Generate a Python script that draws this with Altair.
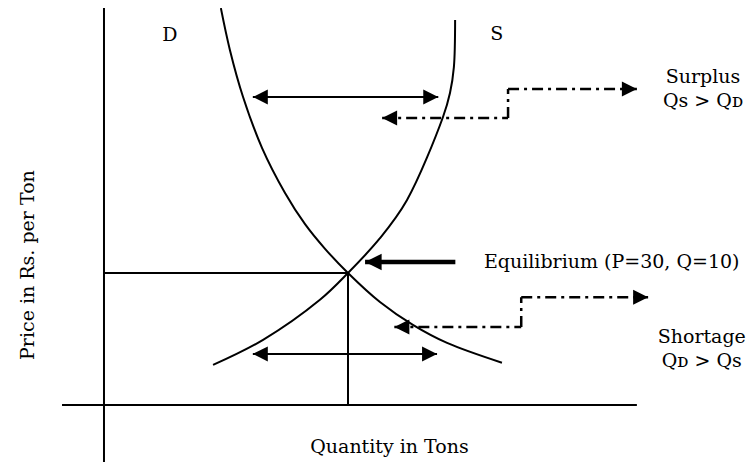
import altair as alt
import pandas as pd

# ---- data (Quantity in tons, Price in Rs. per ton) ----
d_q = [4.79, 5.16, 5.70, 6.48, 7.42, 8.24, 9.06, 10.0, 11.31, 12.66, 14.06, 16.31]
d_p = [90.2, 80.7, 70.0, 58.4, 48.2, 41.1, 35.5, 30.0, 23.4, 18.2, 14.1, 9.6]

s_q = [4.47, 6.52, 8.85, 10.0, 11.31, 12.42, 13.89, 14.18, 14.34, 14.39]
s_p = [9.1, 14.8, 23.9, 30.0, 37.9, 46.6, 65.4, 70.9, 76.8, 87.5]

# segments: x, y, x2, y2, style
seg_x = [-1.72, 0.0, 0.0, 10.0, 6.1, 6.1, 10.7,
         11.4, 16.56, 16.56, 11.9, 17.1, 17.1]
seg_y = [0.0, -12.95, 30.0, 0.0, 70.0, 11.6, 32.5,
         65.2, 65.2, 71.8, 17.7, 17.7, 24.5]
seg_x2 = [21.84, 0.0, 10.0, 10.0, 13.7, 13.65, 14.4,
          16.56, 16.56, 21.84, 17.1, 17.1, 22.3]
seg_y2 = [0.0, 90.22, 30.0, 30.0, 70.0, 11.6, 32.5,
          65.2, 71.8, 71.8, 17.7, 24.5, 24.5]
seg_style = ["axis", "axis", "axis", "axis", "solid", "solid", "thick",
             "dash", "dash", "dash", "dash", "dash", "dash"]

# arrow heads (tip positions)
head_r_q = [13.7, 21.84, 13.65, 22.3]
head_r_p = [70.0, 71.8, 11.6, 24.5]
head_l_q = [6.1, 11.4, 6.1, 11.9]
head_l_p = [70.0, 65.2, 11.6, 17.7]
head_eq_q = [10.7]
head_eq_p = [32.5]

# labels
center_labels = ["D", "S", "Surplus", "Qs > Qᴅ", "Shortage", "Qᴅ > Qs", "Quantity in Tons"]
center_q = [2.7, 16.1, 24.55, 24.55, 24.5, 24.5, 11.7]
center_p = [84.2, 84.4, 74.5, 69.1, 15.4, 10.0, -9.5]
left_labels = ["Equilibrium (P=30, Q=10)"]
left_q = [15.57]
left_p = [32.5]
ylab = ["Price in Rs. per Ton"]
ylab_q = [-3.1]
ylab_p = [31.8]

W, H = 738, 454
Q_MIN = -3.934
Q_MAX = Q_MIN + W / 24.4
P_MAX = 90.227
P_MIN = P_MAX - H / 4.4
FONT = "DejaVu Serif"
FS = 19

xs = alt.Scale(domain=[Q_MIN, Q_MAX], nice=False, zero=False)
ys = alt.Scale(domain=[P_MIN, P_MAX], nice=False, zero=False)
X = lambda f: alt.X(f, type="quantitative", scale=xs, axis=None)
Y = lambda f: alt.Y(f, type="quantitative", scale=ys, axis=None)

curves = pd.DataFrame({
    "q": d_q + s_q,
    "p": d_p + s_p,
    "curve": ["D"] * len(d_q) + ["S"] * len(s_q),
    "i": list(range(len(d_q))) + list(range(len(s_q))),
})
segs = pd.DataFrame({"x": seg_x, "y": seg_y, "x2": seg_x2, "y2": seg_y2, "style": seg_style})

curve_layer = alt.Chart(curves).mark_line(
    interpolate="catmull-rom", color="black", strokeWidth=2, clip=True
).encode(x=X("q"), y=Y("p"), detail="curve:N", order="i:Q")


def rules(style, width, dash=None):
    kw = dict(color="black", strokeWidth=width, clip=True)
    if dash is not None:
        kw["strokeDash"] = dash
    return alt.Chart(segs).transform_filter(
        alt.datum.style == style
    ).mark_rule(**kw).encode(x=X("x"), y=Y("y"), x2="x2:Q", y2="y2:Q")


axis_layer = rules("axis", 2)
solid_layer = rules("solid", 2)
thick_layer = rules("thick", 4.5)
dash_layer = rules("dash", 2.5, [11, 5, 3, 5])

RIGHT = "M0,0L-1,-0.5L-1,0.5Z"
LEFT = "M0,0L1,-0.5L1,0.5Z"

head_r = alt.Chart(pd.DataFrame({"q": head_r_q, "p": head_r_p})).mark_point(
    shape=RIGHT, size=900, filled=True, color="black", opacity=1, strokeWidth=0
).encode(x=X("q"), y=Y("p"))
head_l = alt.Chart(pd.DataFrame({"q": head_l_q, "p": head_l_p})).mark_point(
    shape=LEFT, size=900, filled=True, color="black", opacity=1, strokeWidth=0
).encode(x=X("q"), y=Y("p"))
head_eq = alt.Chart(pd.DataFrame({"q": head_eq_q, "p": head_eq_p})).mark_point(
    shape=LEFT, size=1100, filled=True, color="black", opacity=1, strokeWidth=0
).encode(x=X("q"), y=Y("p"))

txt_c = alt.Chart(pd.DataFrame({"t": center_labels, "q": center_q, "p": center_p})).mark_text(
    font=FONT, fontSize=FS, color="black", align="center", baseline="middle"
).encode(x=X("q"), y=Y("p"), text="t:N")
txt_l = alt.Chart(pd.DataFrame({"t": left_labels, "q": left_q, "p": left_p})).mark_text(
    font=FONT, fontSize=FS, color="black", align="left", baseline="middle"
).encode(x=X("q"), y=Y("p"), text="t:N")
txt_y = alt.Chart(pd.DataFrame({"t": ylab, "q": ylab_q, "p": ylab_p})).mark_text(
    font=FONT, fontSize=FS, color="black", align="center", baseline="middle", angle=270
).encode(x=X("q"), y=Y("p"), text="t:N")

chart = alt.layer(
    axis_layer, curve_layer, solid_layer, thick_layer, dash_layer,
    head_r, head_l, head_eq, txt_c, txt_l, txt_y
).properties(
    width=W, height=H,
    autosize=alt.AutoSizeParams(type="none"),
    padding=0, background="white"
).configure_view(stroke=None)

chart.save("out.html", embed_options={"renderer": "svg", "actions": False})
